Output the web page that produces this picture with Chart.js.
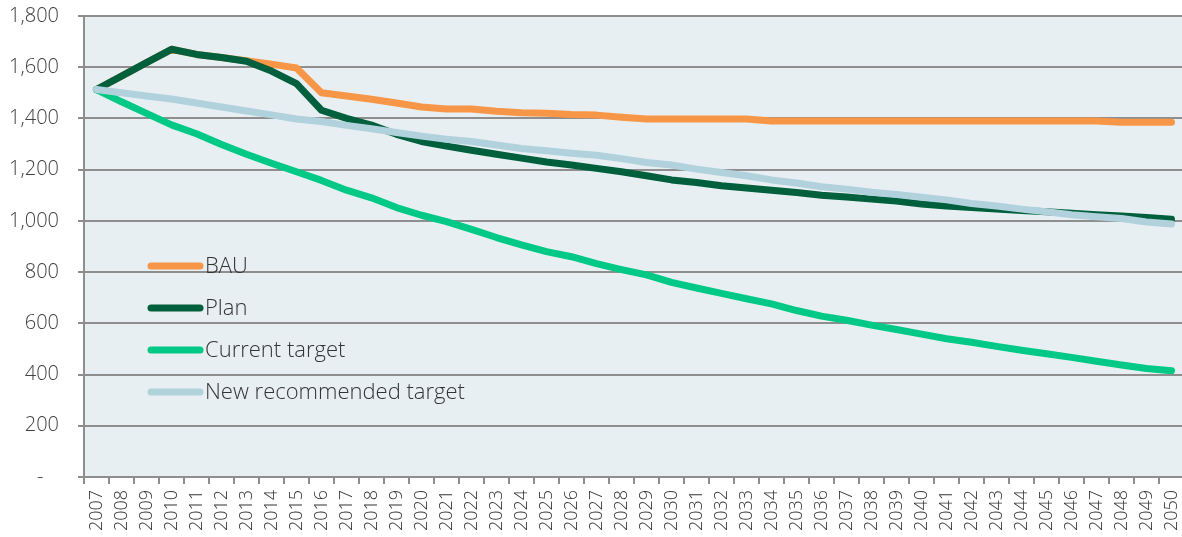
<!DOCTYPE html>
<html>
<head>
<meta charset="utf-8">
<script src="https://cdn.jsdelivr.net/npm/chart.js@4"></script>
<style>
    html, body { margin: 0; padding: 0; background: #ffffff; overflow: hidden; }
    #wrap { position: relative; width: 1184px; height: 537px; }
</style>
</head>
<body>
<div id="wrap"><canvas id="chart"></canvas></div>
<script>
const years = ['2007', '2008', '2009', '2010', '2011', '2012', '2013', '2014', '2015', '2016',
    '2017', '2018', '2019', '2020', '2021', '2022', '2023', '2024', '2025', '2026',
    '2027', '2028', '2029', '2030', '2031', '2032', '2033', '2034', '2035', '2036',
    '2037', '2038', '2039', '2040', '2041', '2042', '2043', '2044', '2045', '2046',
    '2047', '2048', '2049', '2050'];

const bau = [1513, 1565, 1618, 1670, 1650, 1638, 1625, 1612, 1597, 1500,
    1488, 1475, 1460, 1445, 1437, 1437, 1428, 1422, 1420, 1415,
    1413, 1405, 1398, 1398, 1398, 1398, 1398, 1390, 1390, 1390,
    1390, 1390, 1390, 1390, 1390, 1390, 1390, 1390, 1390, 1390,
    1390, 1385, 1385, 1385];

const plan = [1513, 1565, 1618, 1670, 1650, 1638, 1623, 1585, 1536, 1432,
    1400, 1374, 1338, 1310, 1292, 1276, 1260, 1245, 1230, 1218,
    1205, 1192, 1176, 1160, 1150, 1137, 1128, 1120, 1111, 1100,
    1093, 1085, 1078, 1066, 1058, 1052, 1046, 1041, 1036, 1030,
    1024, 1019, 1013, 1006];

const currentTarget = [1513, 1465, 1420, 1375, 1340, 1298, 1260, 1225, 1192, 1158,
    1120, 1090, 1052, 1022, 997, 967, 935, 906, 880, 860,
    833, 810, 789, 760, 738, 717, 696, 676, 650, 628,
    612, 593, 576, 558, 540, 526, 510, 495, 481, 467,
    452, 437, 424, 415];

const newTarget = [1513, 1500, 1488, 1476, 1460, 1445, 1429, 1414, 1398, 1388,
    1373, 1360, 1345, 1331, 1319, 1310, 1296, 1283, 1274, 1264,
    1256, 1243, 1228, 1218, 1202, 1189, 1176, 1160, 1148, 1133,
    1124, 1112, 1103, 1092, 1082, 1068, 1058, 1046, 1036, 1024,
    1016, 1009, 996, 988];

const seriesNames = ['BAU', 'Plan', 'Current target', 'New recommended target'];
const seriesColors = ['#F79646', '#005F3C', '#00C986', '#B1D1DC'];

const FONT = "'Open Sans', 'DejaVu Sans', sans-serif";
const GRID = '#8e8e8e';

// light blue-grey plot background
const plotBg = {
    id: 'plotBg',
    beforeDraw(chart) {
        const { ctx, chartArea: a } = chart;
        ctx.save();
        ctx.fillStyle = '#E8EFF3';
        ctx.fillRect(a.left, a.top, a.right - a.left, a.bottom - a.top);
        ctx.restore();
    }
};

// legend sits inside the plot, left side
const innerLegend = {
    id: 'innerLegend',
    afterDraw(chart) {
        const ctx = chart.ctx;
        const rows = [266, 308, 350, 392];
        ctx.save();
        ctx.font = '300 22px ' + FONT;
        ctx.textBaseline = 'middle';
        ctx.lineCap = 'round';
        ctx.lineWidth = 7;
        seriesNames.forEach((name, i) => {
            ctx.strokeStyle = seriesColors[i];
            ctx.beginPath();
            ctx.moveTo(151, rows[i]);
            ctx.lineTo(200, rows[i]);
            ctx.stroke();
            ctx.fillStyle = '#333333';
            ctx.fillText(name, 205, rows[i] + 1);
        });
        ctx.restore();
    }
};

function makeSet(i, values, order) {
    return {
        label: seriesNames[i],
        data: values,
        borderColor: seriesColors[i],
        backgroundColor: seriesColors[i],
        borderWidth: 7,
        borderCapStyle: 'round',
        borderJoinStyle: 'round',
        pointRadius: 0,
        tension: 0,
        order: order
    };
}

new Chart(document.getElementById('chart'), {
    type: 'line',
    data: {
        labels: years,
        datasets: [
            makeSet(0, bau, 3),
            makeSet(1, plan, 2),
            makeSet(2, currentTarget, 1),
            makeSet(3, newTarget, 0)
        ]
    },
    options: {
        responsive: true,
        maintainAspectRatio: false,
        animation: false,
        layout: { padding: { top: 16, right: 0, bottom: 0, left: 0 } },
        plugins: {
            legend: { display: false },
            tooltip: { enabled: false }
        },
        scales: {
            x: {
                offset: true,
                afterFit: scale => {
                    scale.height = 60;
                    scale.paddingLeft = 0;
                    scale.paddingRight = 0;
                },
                grid: {
                    offset: true,
                    drawOnChartArea: false,
                    drawTicks: true,
                    tickLength: 7,
                    color: GRID,
                    lineWidth: 2
                },
                border: { display: true, color: GRID, width: 2 },
                ticks: {
                    autoSkip: false,
                    minRotation: 90,
                    maxRotation: 90,
                    padding: 6,
                    color: '#333333',
                    font: { family: FONT, size: 18, weight: '300' }
                }
            },
            y: {
                min: 0,
                max: 1800,
                afterFit: scale => {
                    scale.width = 84;
                    scale.paddingTop = 0;
                    scale.paddingBottom = 0;
                },
                grid: {
                    color: GRID,
                    lineWidth: 2,
                    drawTicks: true,
                    tickLength: 6
                },
                border: { display: true, color: GRID, width: 2 },
                ticks: {
                    stepSize: 200,
                    padding: 19,
                    color: '#404040',
                    font: { family: FONT, size: 20, weight: '300' },
                    callback: v => v === 0 ? '-   ' : v.toLocaleString('en-US')
                }
            }
        }
    },
    plugins: [plotBg, innerLegend]
});
</script>
</body>
</html>
